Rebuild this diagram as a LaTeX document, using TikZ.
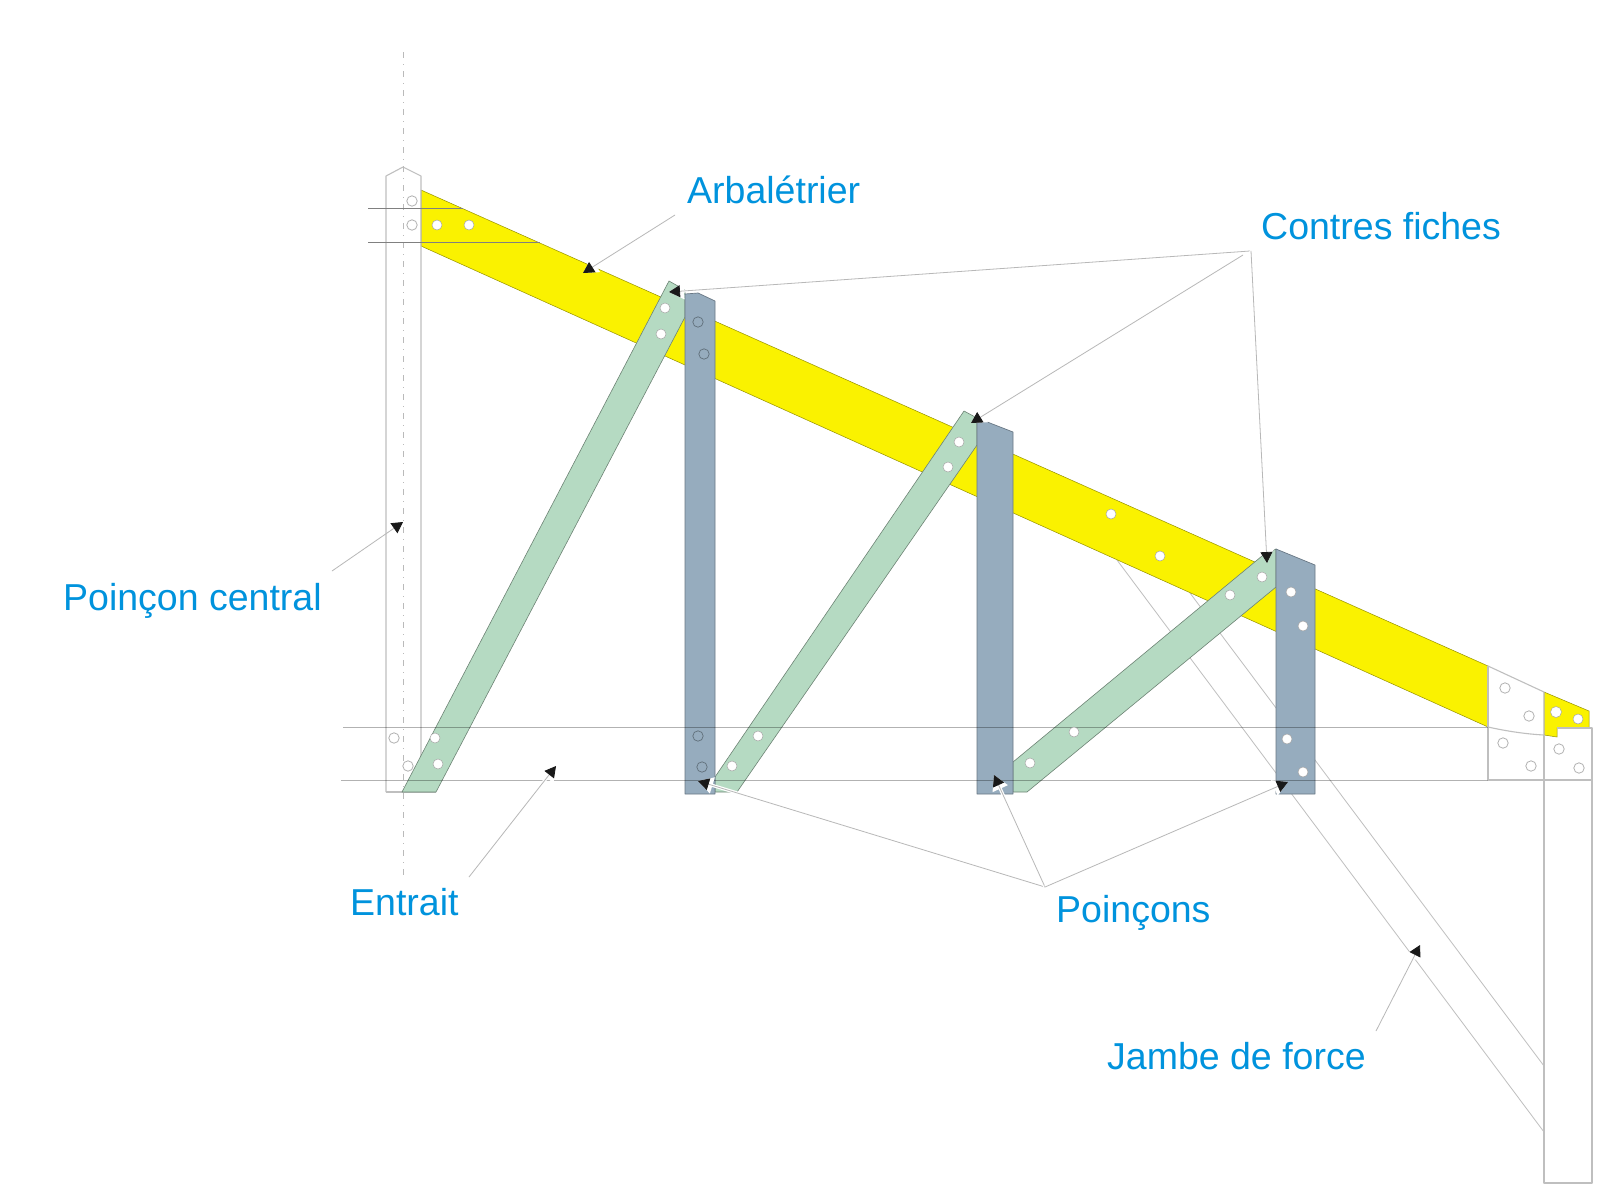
\documentclass[tikz,border=0pt]{standalone}
\usepackage{fontspec}
\setmainfont{Liberation Sans}
\usetikzlibrary{arrows.meta}
\definecolor{lblue}{HTML}{0093DD}
\definecolor{yel}{HTML}{FAF200}
\definecolor{grn}{HTML}{B5DAC2}
\definecolor{blu}{HTML}{96ACBE}
\tikzset{
  x=1pt,y=-1pt,
  lab/.style={anchor=base west,inner sep=0pt,text=lblue,font=\fontsize{37.5}{40}\selectfont},
  struct/.style={draw=black!25,line width=1.1pt,line join=round},
  ybeam/.style={fill=yel,draw=yel!60!black,line width=.5pt,line join=round},
  gbeam/.style={fill=grn,draw=grn!60!black,line width=.6pt,line join=round},
  bbeam/.style={fill=blu,draw=blu!70!black,line width=.7pt,line join=round},
  ghole/.style={fill=white,draw=black!30,line width=.8pt},
  whole/.style={fill=white,draw=black!35,line width=.5pt},
  dhole/.style={fill=blu,draw=blu!65!black,line width=.7pt},
  leader/.style={draw=black!28,line width=.8pt,-{Triangle[length=11pt,width=12pt,color=black!90]}},
  halo/.style={preaction={draw=white,line width=3.2pt,-{Triangle[length=15pt,width=16pt,color=white]}}},
  thinline/.style={draw=black!50,line width=.6pt},
  tie/.style={draw=black,opacity=.3,line width=1pt},
}
\begin{document}
\begin{tikzpicture}
\useasboundingbox (0,0) rectangle (1616,1200);
\fill[white] (0,0) rectangle (1616,1200);
% jambe de force (behind everything)
\draw[struct,line width=.8pt] (1117,560) -- (1544,1132);
\draw[struct,line width=.8pt] (1190,593) -- (1544,1066);
% arbaletrier
\path[ybeam] (421,190) -- (1488,666) -- (1488,727) -- (421,246) -- cycle;
\path[ybeam] (1544,692) -- (1589,711) -- (1589,728) -- (1557,728) -- (1557,737) -- (1544,735) -- cycle;
% poincon central and axis
\draw[struct] (386,792) -- (386,176) -- (403,167) -- (421,176) -- (421,792);
\draw[struct] (386,792) -- (436,792);
\draw[black!27,line width=1pt,dash pattern=on 6pt off 6pt on 1pt off 6pt] (403,52) -- (403,880);
% end blocks
\draw[struct] (1488,666) -- (1544,692) -- (1544,735);
\draw[struct] (1488,666) -- (1488,780) -- (1592,780);
\draw[struct] (1488,727) .. controls (1506,731) and (1525,734) .. (1544,735);
\draw[struct] (1544,735) -- (1544,1183) -- (1592,1183) -- (1592,780);
\draw[struct] (1589,728) -- (1592,728) -- (1592,780);
\draw[struct] (1557,728) -- (1589,728);
% contre-fiches
\path[gbeam] (669,281) -- (685,290) -- (685,317) -- (436,792) -- (402,792) -- cycle;
\path[gbeam] (964,411) -- (977,418) -- (977,445) -- (737,792) -- (715,792) -- (715,777) -- cycle;
\path[gbeam] (1262,556) -- (1276,549) -- (1276,587) -- (1027,792) -- (1013,792) -- (1013,762) -- cycle;
% poincons
\path[bbeam] (685,294) -- (698,293) -- (715,301) -- (715,794) -- (685,794) -- cycle;
\path[bbeam] (977,418) -- (1013,432) -- (1013,794) -- (977,794) -- cycle;
\path[bbeam] (1276,549) -- (1315,565) -- (1315,794) -- (1276,794) -- cycle;
% horizontal lines
\draw[thinline] (368,208) -- (463,208);
\draw[thinline] (368,242) -- (540,242);
\draw[tie] (343,727) -- (1488,727);
\draw[tie] (341,780) -- (1488,780);
% holes
\foreach \a/\b in {412/201,412/225,394/738,408/766,1505/688,1529/716,1503/743,1531/766,1559/749,1579/768}
  {\filldraw[ghole] (\a,\b) circle[radius=5.2];}
\foreach \a/\b in {437/225,469/225,665/308,661/334,435/738,438/764,732/766,758/736,959/442,948/467,1111/514,1160/556,1262/577,1230/595,1291/592,1303/626,1074/732,1030/763,1287/739,1303/772,1578/719}
  {\filldraw[whole] (\a,\b) circle[radius=5];}
\filldraw[whole] (1556,712) circle[radius=5.5];
\foreach \a/\b in {698/322,704/354,698/736,702/767}
  {\filldraw[dhole] (\a,\b) circle[radius=5.2];}
% labels
\node[lab] (arb) at (687,203) {Arbalétrier};
\node[lab] (cf) at (1261,239) {Contres fiches};
\node[lab] (pc) at (63,610) {Poinçon central};
\node[lab] (ent) at (350,915) {Entrait};
\node[lab] (poi) at (1056,922) {Poinçons};
\node[lab] (jf) at (1107,1069) {Jambe de force};
% leader ends
\coordinate (arbS) at (675,215);  \coordinate (arbT) at (583,273);
\coordinate (cfA) at (1250,251);  \coordinate (cfAT) at (669,292);
\coordinate (cfB) at (1243,255);  \coordinate (cfBT) at (971,423);
\coordinate (cfC) at (1251,251);  \coordinate (cfCT) at (1267,563);
\coordinate (pcS) at (332,571);   \coordinate (pcT) at (403,522);
\coordinate (entS) at (469,877);  \coordinate (entT) at (556,766);
\coordinate (poiS) at (1045,887);
\coordinate (poiA) at (698,781);  \coordinate (poiB) at (994,775); \coordinate (poiC) at (1288,782);
\coordinate (jfS) at (1376,1031); \coordinate (jfT) at (1420,945);
% leaders
\draw[leader,halo] (arbS) -- (arbT);
\draw[leader,halo] (cfA) -- (cfAT);
\draw[leader,halo] (cfB) -- (cfBT);
\draw[leader,halo] (cfC) -- (cfCT);
\draw[leader] (pcS) -- (pcT);
\draw[leader,halo] (entS) -- (entT);
\draw[leader,halo] (poiS) -- (poiA);
\draw[leader,halo] (poiS) -- (poiB);
\draw[leader,halo] (poiS) -- (poiC);
\draw[leader,halo] (jfS) -- (jfT);
\end{tikzpicture}
\end{document}
